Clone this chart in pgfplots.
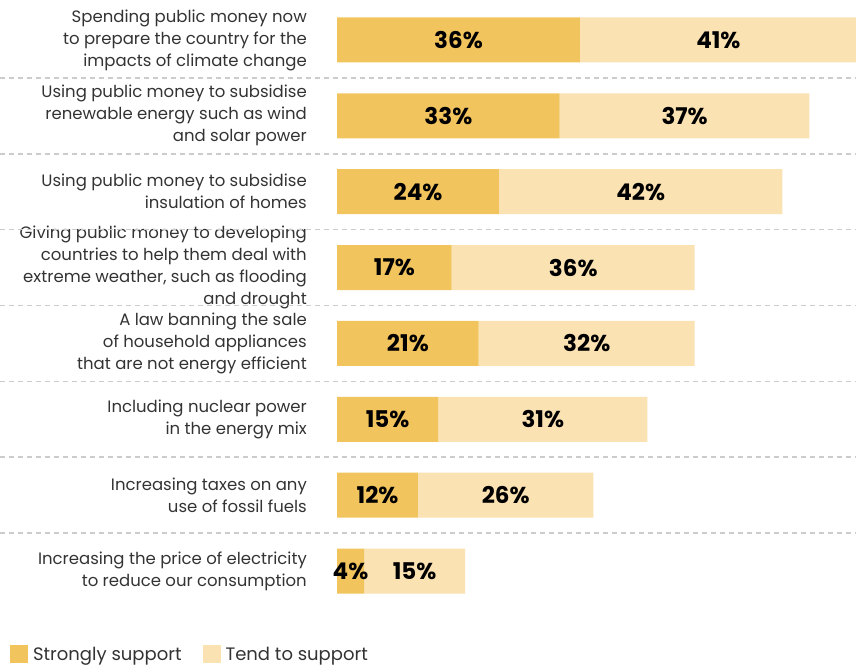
\documentclass[border=0pt]{standalone}
\usepackage{pgfplots}
\pgfplotsset{compat=1.18}
\usepackage{fontspec}
\setmainfont{Poppins}
\definecolor{strong}{HTML}{F2C45E}
\definecolor{tend}{HTML}{FAE2B2}
\definecolor{labeltext}{HTML}{333333}
\definecolor{sep}{HTML}{CCCCCC}

% one row per statement, top to bottom
\pgfplotstableread{
row strong tend
0   36  41
1   33  37
2   24  42
3   17  36
4   21  32
5   15  31
6   12  26
7   4   15
}\support

\begin{document}
\begin{tikzpicture}
\useasboundingbox (0,0) rectangle (856pt,-666pt);
\begin{axis}[
    at={(337pt,0pt)}, anchor=north west,
    scale only axis, width=520pt, height=610pt,
    xbar stacked, bar width=45pt,
    xmin=0, xmax=77.04,
    ymin=-0.527, ymax=7.514, y dir=reverse,
    axis line style={draw=none}, tick style={draw=none},
    xtick=\empty,
    ytick={0,...,7},
    yticklabels={
        {Spending public money now\\to prepare the country for the\\impacts of climate change},
        {Using public money to subsidise\\renewable energy such as wind\\and solar power},
        {Using public money to subsidise\\insulation of homes},
        {Giving public money to developing\\countries to help them deal with\\extreme weather, such as flooding\\and drought},
        {A law banning the sale\\of household appliances\\that are not energy efficient},
        {Including nuclear power\\in the energy mix},
        {Increasing taxes on any\\use of fossil fuels},
        {Increasing the price of electricity\\to reduce our consumption}},
    yticklabel style={align=right, anchor=east, inner sep=0pt, xshift=-30pt,
        text=labeltext, font=\fontsize{16.5pt}{22pt}\selectfont},
    point meta=explicit,
    /pgf/number format/assume math mode=true,
    nodes near coords={\pgfmathprintnumber{\pgfplotspointmeta}\%},
    every node near coord/.append style={anchor=center,
        font=\fontsize{23pt}{23pt}\selectfont\bfseries, text=black},
    legend style={at={(-0.629,-0.0885)}, anchor=south west, draw=none,
        inner sep=0pt, legend columns=2,
        font=\fontsize{18pt}{18pt}\selectfont, text=labeltext,
        /tikz/every odd column/.append style={column sep=3pt},
        /tikz/every even column/.append style={column sep=19pt}},
    legend image code/.code={\fill[#1] (0pt,-9pt) rectangle (18pt,9pt);},
    clip=false,
]
\addplot[fill=strong, draw=none] table[x=strong, y=row, meta=strong] {\support};
\addplot[fill=tend, draw=none] table[x=tend, y=row, meta=tend] {\support};
\legend{Strongly support, Tend to support}
\pgfplotsinvokeforeach{0.5,1.5,...,6.5}{
    \draw[sep, line width=1.5pt, dash pattern=on 5pt off 4pt]
        ([xshift=-337pt]axis cs:0,#1) -- (axis cs:77.04,#1);
}
\end{axis}
\end{tikzpicture}
\end{document}
